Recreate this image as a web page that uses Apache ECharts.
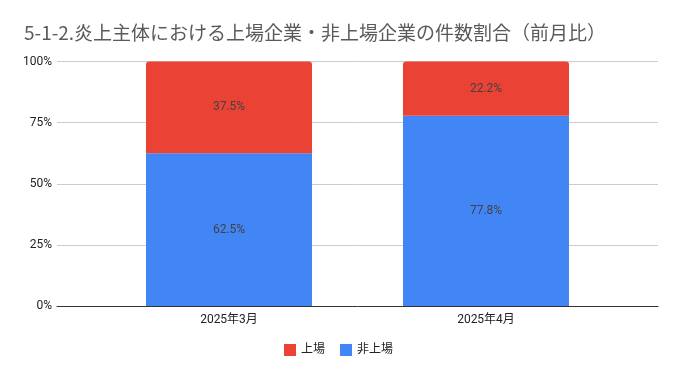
<!DOCTYPE html>
<html>
<head>
<meta charset="utf-8">
<script src="https://cdn.jsdelivr.net/npm/echarts@6/dist/echarts.min.js"></script>
<style>html,body{margin:0;padding:0;background:#fff;}#c{width:677px;height:371px;}</style>
</head>
<body>
<div id="c"></div>
<script>
const titleText = '5-1-2.炎上主体における上場企業・非上場企業の件数割合（前月比）';
const categories = ['2025年3月', '2025年4月'];
const listed = [0.375, 0.222];
const unlisted = [0.625, 0.778];
const yTicks = [0, 0.25, 0.5, 0.75, 1];

const FONT = 'Roboto, "Noto Sans CJK JP", sans-serif';
const chart = echarts.init(document.getElementById('c'));
const pct = v => (v * 100).toFixed(1) + '%';
chart.setOption({
  animation: false,
  backgroundColor: '#fff',
  textStyle: { fontFamily: FONT },
  title: {
    text: titleText, left: 19, top: 18,
    textStyle: { fontFamily: '"Noto Sans CJK JP", sans-serif', fontSize: 19, fontWeight: 'normal', color: '#5a5a5a' }
  },
  legend: {
    data: ['上場', '非上場'], top: 339, left: 'center', icon: 'rect',
    itemWidth: 12, itemHeight: 12, itemGap: 15,
    textStyle: { fontFamily: FONT, fontSize: 12, color: '#222' }
  },
  grid: [
    { left: 57, right: 19, top: 61.5, bottom: 65 },
    { left: 100.5, right: 62.5, top: 61.5, bottom: 65 }
  ],
  xAxis: [
    { gridIndex: 0, type: 'category', data: categories, axisLine: { lineStyle: { color: '#333', width: 1 } },
      axisTick: { show: false }, axisLabel: { show: false }, splitLine: { show: false } },
    { gridIndex: 1, type: 'category', data: categories, axisLine: { show: false },
      axisTick: { show: false }, axisLabel: { color: '#222', fontSize: 12, margin: 8, fontFamily: FONT } }
  ],
  yAxis: [
    { gridIndex: 0, type: 'value', min: yTicks[0], max: yTicks[yTicks.length - 1], interval: 0.25,
      axisLine: { show: false }, axisTick: { show: false },
      axisLabel: { color: '#222', fontSize: 12, margin: 5, formatter: v => Math.round(v * 100) + '%' },
      splitLine: { lineStyle: { color: '#cccccc', width: 1 } } },
    { gridIndex: 1, type: 'value', min: 0, max: 1, show: false, splitLine: { show: false } }
  ],
  series: [
    { name: '非上場', type: 'bar', stack: 's', xAxisIndex: 1, yAxisIndex: 1, data: unlisted,
      barWidth: '64.6%', itemStyle: { color: '#4285F4' },
      label: { show: true, position: 'inside', color: '#424242', fontSize: 12, formatter: p => pct(p.value) } },
    { name: '上場', type: 'bar', stack: 's', xAxisIndex: 1, yAxisIndex: 1, data: listed,
      barWidth: '64.6%', itemStyle: { color: '#EA4335', borderRadius: [3, 3, 0, 0] },
      label: { show: true, position: 'inside', color: '#424242', fontSize: 12, formatter: p => pct(p.value) } }
  ]
});
</script>
</body>
</html>
